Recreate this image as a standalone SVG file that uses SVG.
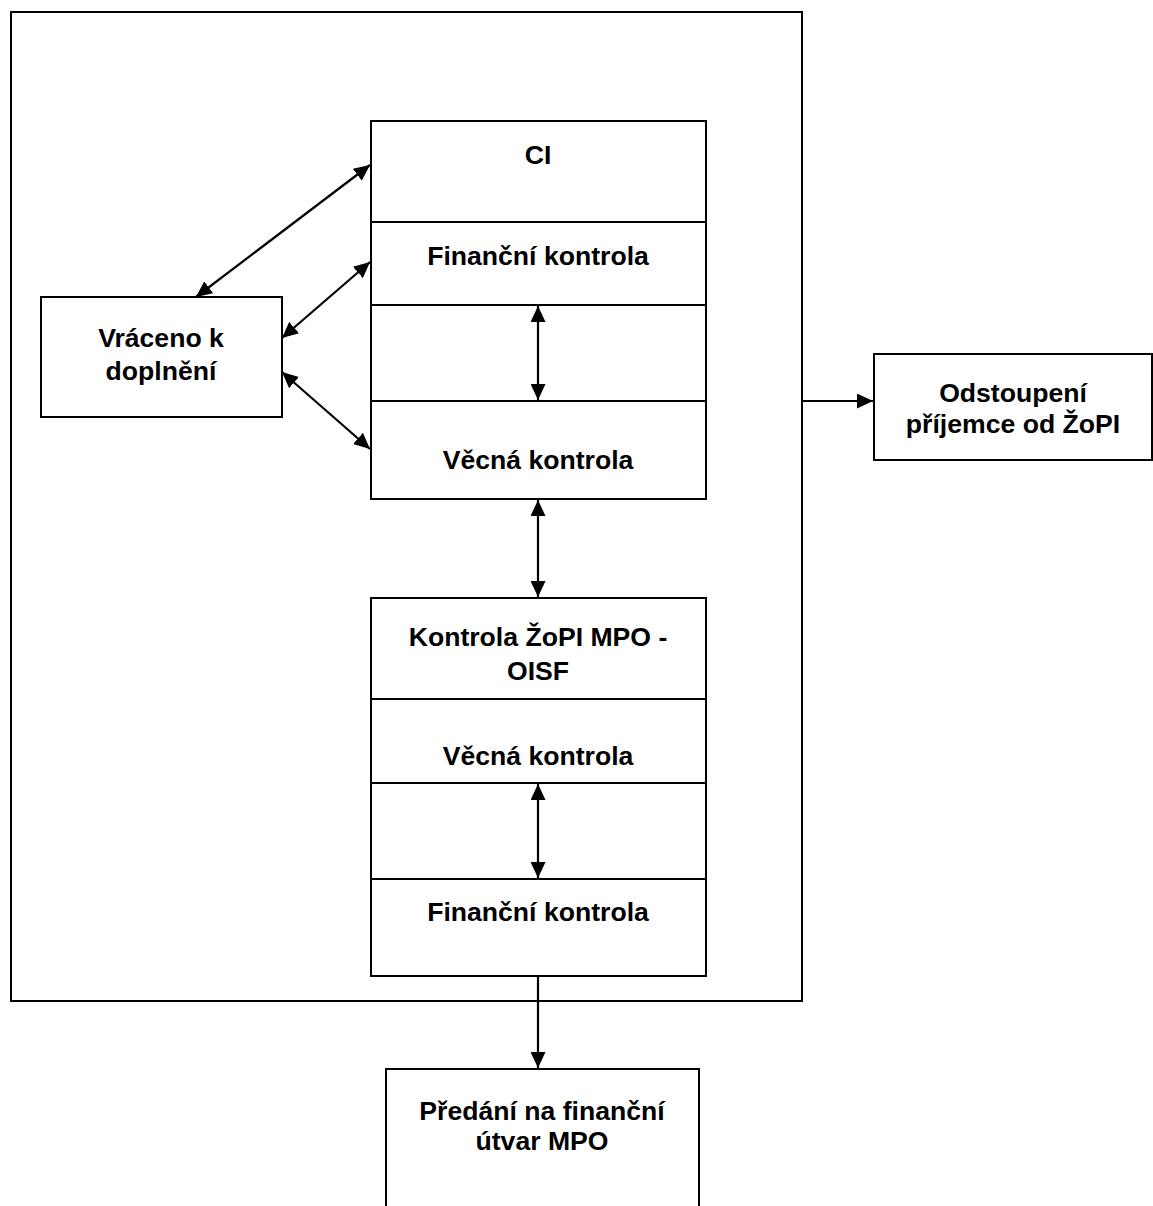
<svg xmlns="http://www.w3.org/2000/svg" width="1153" height="1206" viewBox="0 0 1153 1206">
<style>
.box{fill:#fff;stroke:#000;stroke-width:2}
.ln{stroke:#000;stroke-width:2;fill:none}
.t{font-family:"Liberation Sans",Arial,sans-serif;font-weight:bold;font-size:26.6px;text-anchor:middle;fill:#000}
.c{stroke:#000;stroke-width:2.2;fill:none;marker-end:url(#ah)}
.d{stroke:#000;stroke-width:2.2;fill:none;marker-end:url(#ah);marker-start:url(#ah)}
</style>
<defs>
<marker id="ah" viewBox="0 0 16 15" refX="16" refY="7.5" markerWidth="16" markerHeight="15" markerUnits="userSpaceOnUse" orient="auto-start-reverse">
<path d="M0,0 L16,7.5 L0,15 z" fill="#000"/>
</marker>
</defs>
<rect width="1153" height="1206" fill="#fff"/>
<g id="outer">
<rect class="box" x="11" y="12" width="791" height="989"/>
</g>
<g id="stack1">
<rect class="box" x="371" y="121" width="335" height="378"/>
<line class="ln" x1="371" y1="222" x2="706" y2="222"/>
<line class="ln" x1="371" y1="305" x2="706" y2="305"/>
<line class="ln" x1="371" y1="401" x2="706" y2="401"/>
<text class="t" x="538" y="164">CI</text>
<text class="t" x="538" y="265">Finanční kontrola</text>
<text class="t" x="538" y="469">Věcná kontrola</text>
</g>
<g id="stack2">
<rect class="box" x="371" y="598" width="335" height="378"/>
<line class="ln" x1="371" y1="699" x2="706" y2="699"/>
<line class="ln" x1="371" y1="783" x2="706" y2="783"/>
<line class="ln" x1="371" y1="879" x2="706" y2="879"/>
<text class="t" x="538" y="646">Kontrola ŽoPI MPO -</text>
<text class="t" x="538" y="680">OISF</text>
<text class="t" x="538" y="765">Věcná kontrola</text>
<text class="t" x="538" y="921">Finanční kontrola</text>
</g>
<g id="vraceno">
<rect class="box" x="41" y="297" width="241" height="120"/>
<text class="t" x="161" y="347">Vráceno k</text>
<text class="t" x="161" y="380">doplnění</text>
</g>
<g id="odstoupeni">
<rect class="box" x="874" y="354" width="278" height="106"/>
<text class="t" x="1013" y="402">Odstoupení</text>
<text class="t" x="1013" y="433">příjemce od ŽoPI</text>
</g>
<g id="predani">
<path class="ln" d="M386,1210 L386,1069 L699,1069 L699,1210" fill="#fff"/>
<text class="t" x="542" y="1120">Předání na finanční</text>
<text class="t" x="542" y="1150">útvar MPO</text>
</g>
<g id="connectors">
<line class="d" x1="196" y1="297" x2="370" y2="165"/>
<line class="d" x1="282" y1="338" x2="370" y2="262"/>
<line class="d" x1="282" y1="372" x2="370" y2="449"/>
<line class="d" x1="538" y1="306" x2="538" y2="400"/>
<line class="d" x1="538" y1="500" x2="538" y2="597"/>
<line class="d" x1="538" y1="784" x2="538" y2="878"/>
<line class="c" x1="538" y1="977" x2="538" y2="1068"/>
<line class="c" x1="802" y1="401" x2="873" y2="401"/>
</g>
</svg>
